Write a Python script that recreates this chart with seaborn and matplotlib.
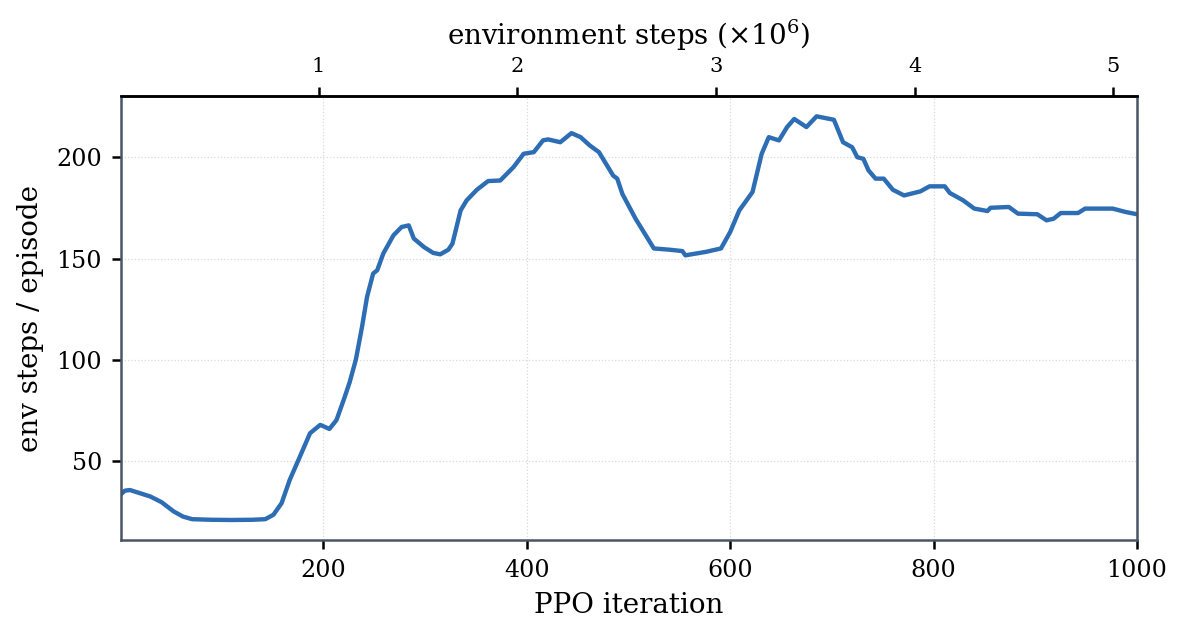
import matplotlib
matplotlib.use("Agg")
import matplotlib.pyplot as plt
from matplotlib.ticker import MultipleLocator
import seaborn as sns

# PPO iteration vs. smoothed episode length
iters = [1, 5, 10, 20, 30, 41, 53, 62, 71, 90, 110, 130, 143, 151, 159, 167,
         177, 187, 197, 206, 213, 221, 226, 232, 238, 243, 249, 253, 259, 269,
         277, 284, 289, 299, 308, 315, 323, 327, 335, 341, 351, 362, 374, 387,
         397, 407, 416, 421, 433, 444, 453, 462, 471, 485, 489, 494, 507, 525,
         540, 553, 556, 576, 591, 600, 609, 622, 631, 638, 648, 656, 663, 675,
         685, 702, 711, 720, 725, 731, 736, 743, 751, 760, 771, 787, 796, 811,
         816, 829, 840, 853, 856, 874, 883, 902, 911, 918, 925, 942, 949, 976,
         989, 1000]
ep_len = [33.5, 35.3, 35.6, 34.0, 32.4, 29.6, 25.0, 22.5, 21.2, 20.9, 20.8,
          20.9, 21.2, 23.4, 29.1, 40.6, 52.1, 63.7, 67.8, 65.8, 70.2, 81.5,
          89.0, 100.0, 116.0, 131.0, 142.6, 144.2, 152.5, 161.5, 165.6, 166.4,
          159.9, 155.7, 152.8, 152.1, 154.4, 157.4, 173.8, 178.8, 184.0, 188.3,
          188.6, 195.2, 201.8, 202.6, 208.4, 208.9, 207.5, 212.0, 210.0, 205.9,
          202.6, 191.0, 189.5, 182.0, 169.7, 155.0, 154.4, 153.7, 151.6, 153.3,
          155.0, 163.1, 173.8, 182.9, 201.8, 210.0, 208.4, 215.0, 219.0, 215.0,
          220.3, 218.6, 207.5, 205.0, 200.1, 199.3, 193.6, 189.5, 189.5, 184.0,
          181.2, 183.2, 185.7, 185.7, 182.4, 178.8, 174.7, 173.5, 175.1, 175.5,
          172.2, 171.9, 168.9, 169.7, 172.5, 172.5, 174.7, 174.7, 173.0, 171.9]

steps_per_iter = 5120
top_ticks = [1, 2, 3, 4, 5]

sns.set_style("ticks")
plt.rcParams["font.family"] = ["DejaVu Serif"]
plt.rcParams["mathtext.fontset"] = "dejavuserif"
for k in ["text.color", "axes.labelcolor", "xtick.color", "ytick.color"]:
    plt.rcParams[k] = "black"

fig, ax = plt.subplots(figsize=(7.9, 4.247), dpi=150)
fig.subplots_adjust(left=0.102, right=0.9595, top=0.849, bottom=0.152)

sns.lineplot(x=iters, y=ep_len, ax=ax, color="#2d6db4", linewidth=2.1)

ax.set_xlim(1, 1000)
ax.yaxis.set_major_locator(MultipleLocator(50))
ax.set_xlabel("PPO iteration", fontsize=13.3, labelpad=5)
ax.set_ylabel("env steps / episode", fontsize=13.3, labelpad=6)
ax.tick_params(labelsize=11.4, length=4.5, width=1.2, pad=4.5)
ax.grid(True, linestyle=":", linewidth=0.6, color="#d9d9d9")
for s in ax.spines.values():
    s.set_color("#4a5568")
    s.set_linewidth(1.2)
ax.spines["top"].set_color("black")

# secondary axis in millions of environment steps
sec = ax.secondary_xaxis(
    "top",
    functions=(lambda it: it * steps_per_iter / 1e6,
               lambda m: m * 1e6 / steps_per_iter))
sec.set_xticks(top_ticks)
sec.set_xlabel(r"environment steps ($\times 10^6$)", fontsize=13.3, labelpad=6)
sec.tick_params(labelsize=10, length=4.5, width=1.2, pad=5)
sec.spines["top"].set_color("black")
sec.spines["top"].set_linewidth(1.2)

fig.savefig("out.png", dpi=150)
